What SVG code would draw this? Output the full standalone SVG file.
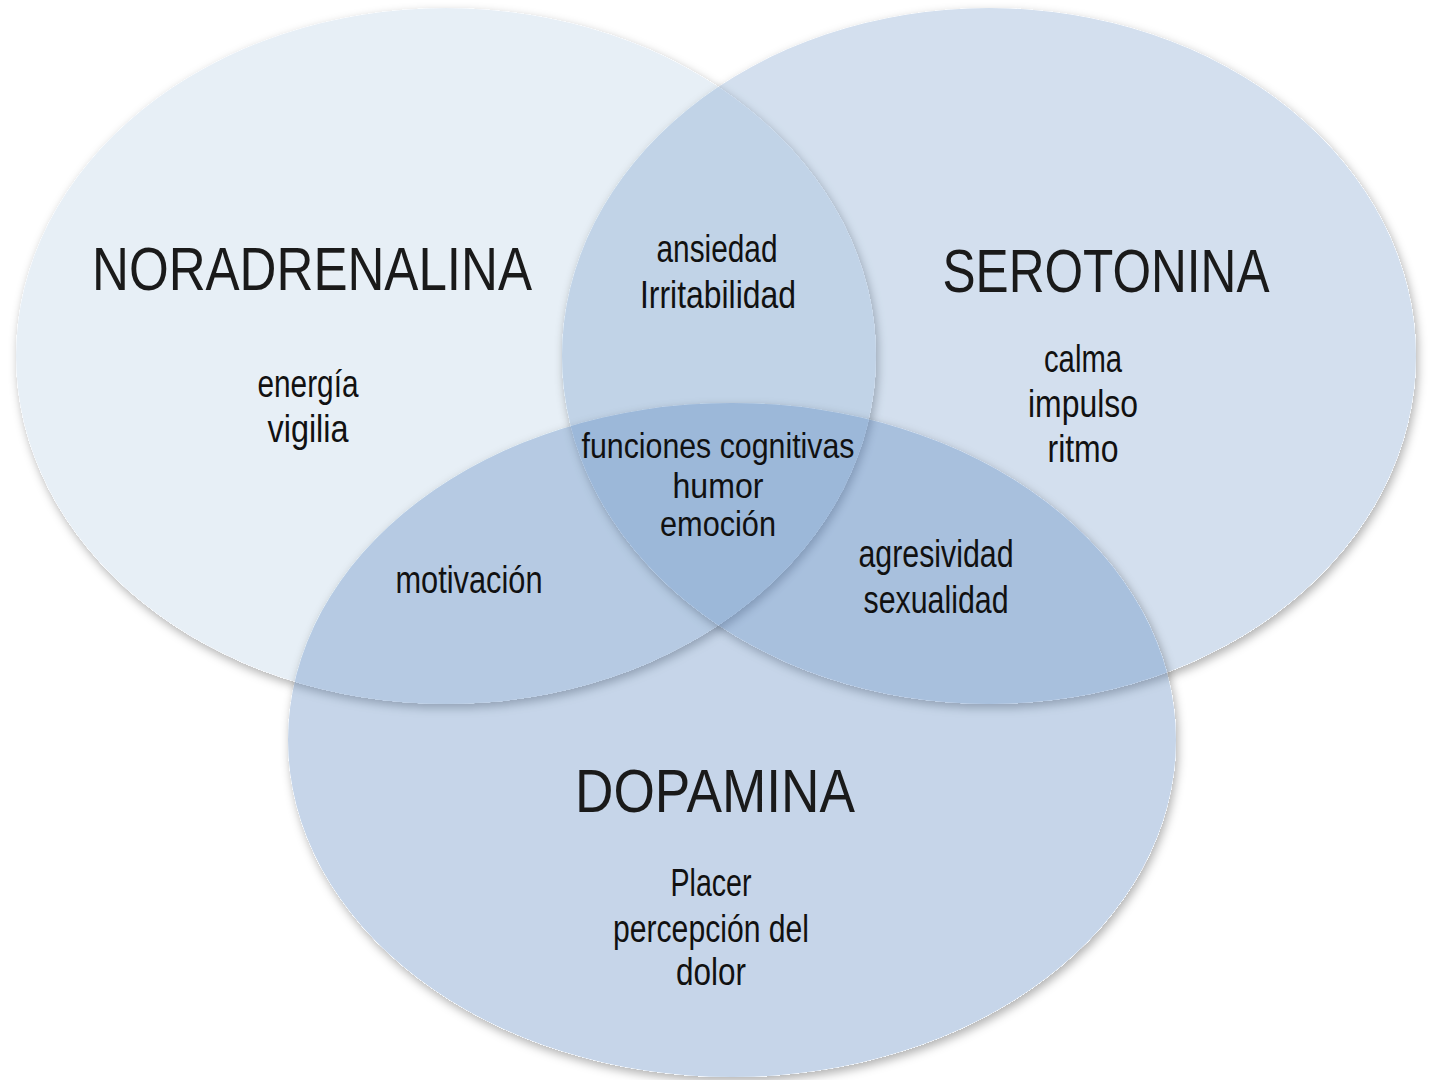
<svg xmlns="http://www.w3.org/2000/svg" width="1430" height="1080" viewBox="0 0 1430 1080">
  <defs>
    <filter id="shadow" x="-10%" y="-10%" width="120%" height="120%">
      <feComponentTransfer in="SourceAlpha" result="solid">
        <feFuncA type="linear" slope="60"/>
      </feComponentTransfer>
      <feGaussianBlur in="solid" stdDeviation="5" result="b"/>
      <feOffset in="b" dx="2" dy="4" result="o"/>
      <feFlood flood-color="#000000" flood-opacity="0.3" result="c"/>
      <feComposite in="c" in2="o" operator="in" result="s"/>
      <feComposite in="s" in2="solid" operator="out" result="so"/>
      <feMerge>
        <feMergeNode in="so"/>
        <feMergeNode in="SourceGraphic"/>
      </feMerge>
    </filter>
  </defs>
  <style>
    .circle { fill: #4f81bd; }
    .title { font-family: "Liberation Sans", "DejaVu Sans", sans-serif; font-size: 62px; fill: #1a1a1a; text-anchor: middle; }
    .lbl { font-family: "Liberation Sans Narrow", "Liberation Sans", "DejaVu Sans Condensed", sans-serif; font-size: 38px; fill: #111111; text-anchor: middle; }
    .lbl-s { font-family: "Liberation Sans Narrow", "Liberation Sans", "DejaVu Sans Condensed", sans-serif; font-size: 35px; fill: #111111; text-anchor: middle; }
  </style>
  <rect x="0" y="0" width="1430" height="1080" fill="#ffffff"/>

  <g id="node-noradrenalina">
    <ellipse class="circle" cx="446" cy="356" rx="430" ry="348" fill-opacity="0.13" filter="url(#shadow)"/>
    <text class="title" x="312" y="290" textLength="440" lengthAdjust="spacingAndGlyphs">NORADRENALINA</text>
    <text class="lbl" x="308" y="397" textLength="101" lengthAdjust="spacingAndGlyphs">energía</text>
    <text class="lbl" x="308" y="442" textLength="81" lengthAdjust="spacingAndGlyphs">vigilia</text>
  </g>

  <g id="node-serotonina">
    <ellipse class="circle" cx="989" cy="356" rx="427" ry="348" fill-opacity="0.25" filter="url(#shadow)"/>
    <text class="title" x="1106" y="292" textLength="327" lengthAdjust="spacingAndGlyphs">SEROTONINA</text>
    <text class="lbl" x="1083" y="372" textLength="78" lengthAdjust="spacingAndGlyphs">calma</text>
    <text class="lbl" x="1083" y="417" textLength="110" lengthAdjust="spacingAndGlyphs">impulso</text>
    <text class="lbl" x="1083" y="462" textLength="71" lengthAdjust="spacingAndGlyphs">ritmo</text>
  </g>

  <g id="node-dopamina">
    <ellipse class="circle" cx="732" cy="740" rx="444" ry="337" fill-opacity="0.33" filter="url(#shadow)"/>
    <text class="title" x="715" y="812" textLength="280" lengthAdjust="spacingAndGlyphs">DOPAMINA</text>
    <text class="lbl" x="711" y="896" textLength="81" lengthAdjust="spacingAndGlyphs">Placer</text>
    <text class="lbl" x="711" y="942" textLength="196" lengthAdjust="spacingAndGlyphs">percepción del</text>
    <text class="lbl" x="711" y="985" textLength="70" lengthAdjust="spacingAndGlyphs">dolor</text>
  </g>

  <g id="overlap-nor-ser">
    <text class="lbl" x="717" y="262" textLength="121" lengthAdjust="spacingAndGlyphs">ansiedad</text>
    <text class="lbl" x="718" y="308" textLength="156" lengthAdjust="spacingAndGlyphs">Irritabilidad</text>
  </g>

  <g id="overlap-all">
    <text class="lbl-s" x="718" y="458" textLength="273" lengthAdjust="spacingAndGlyphs">funciones cognitivas</text>
    <text class="lbl-s" x="718" y="498" textLength="91" lengthAdjust="spacingAndGlyphs">humor</text>
    <text class="lbl-s" x="718" y="536" textLength="116" lengthAdjust="spacingAndGlyphs">emoción</text>
  </g>

  <g id="overlap-nor-dop">
    <text class="lbl" x="469" y="593" textLength="147" lengthAdjust="spacingAndGlyphs">motivación</text>
  </g>

  <g id="overlap-ser-dop">
    <text class="lbl" x="936" y="567" textLength="155" lengthAdjust="spacingAndGlyphs">agresividad</text>
    <text class="lbl" x="936" y="613" textLength="145" lengthAdjust="spacingAndGlyphs">sexualidad</text>
  </g>

  <g id="connectors"/>
</svg>
